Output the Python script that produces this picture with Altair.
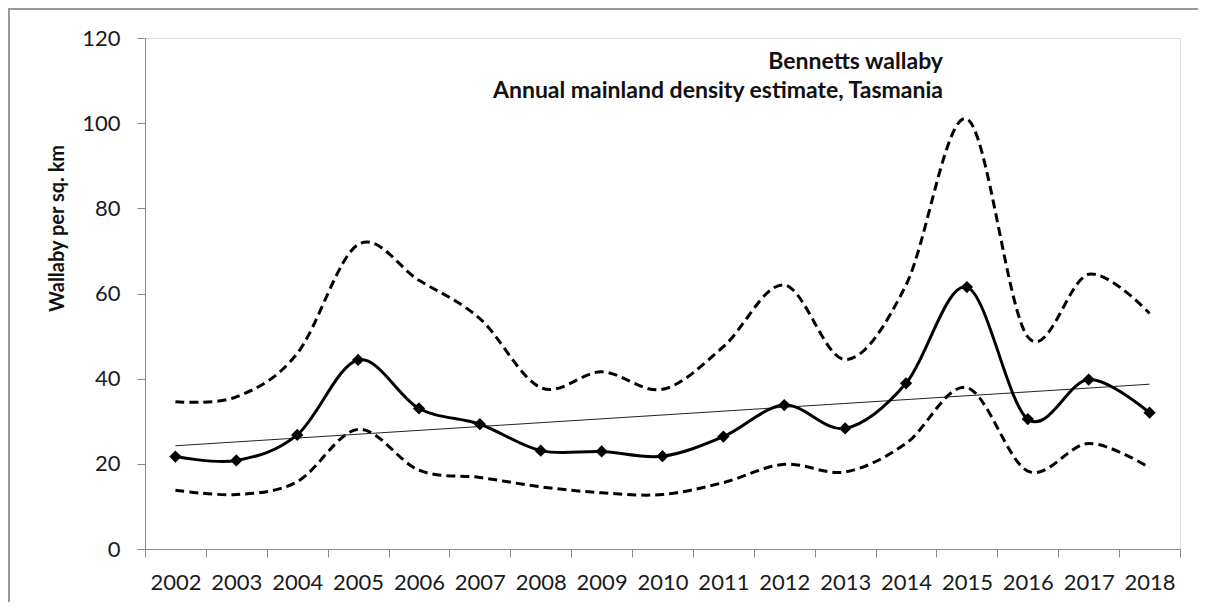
import altair as alt
import pandas as pd

years = list(range(2002, 2019))
estimate = [21.7, 20.8, 26.8, 44.4, 33.0, 29.3, 23.1, 22.9, 21.8, 26.4, 33.8, 28.3, 38.9, 61.5, 30.5, 39.8, 32.0]
upper = [34.6, 35.7, 45.9, 71.5, 63.1, 54.1, 37.9, 41.6, 37.5, 47.5, 62.0, 44.5, 62.0, 101.0, 49.8, 64.5, 55.3]
lower = [13.8, 12.8, 15.8, 28.1, 18.5, 16.8, 14.6, 13.2, 12.8, 15.6, 19.9, 18.1, 24.8, 37.9, 18.3, 24.8, 19.1]
y_ticks = [0, 20, 40, 60, 80, 100, 120]
title_lines = ["Bennetts wallaby", "Annual mainland density estimate, Tasmania"]
y_title = "Wallaby per sq. km"

df = pd.DataFrame({"year": years, "estimate": estimate, "upper": upper, "lower": lower})

FONT = "Lato"
W, H = 1035, 511
PAD = {"left": 137, "top": 30, "right": 18, "bottom": 53}

x_enc = alt.X(
    "year:O",
    sort="ascending",
    axis=alt.Axis(
        title=None, labelAngle=0, tickBand="extent", tickSize=8, labelPadding=15,
        labelFontSize=22, labelFont=FONT, labelColor="#1a1a1a",
        domainColor="#8a8a8a", tickColor="#8a8a8a", grid=False,
    ),
    scale=alt.Scale(paddingInner=0, paddingOuter=0),
)
y_scale = alt.Scale(domain=[0, 120], nice=False)
y_axis = alt.Axis(
    values=y_ticks, tickSize=8, labelPadding=17, labelFontSize=22, labelFont=FONT,
    labelColor="#1a1a1a", domainColor="#8a8a8a", tickColor="#8a8a8a", grid=False,
    title=y_title, titleFont=FONT, titleFontSize=20, titleFontWeight="bold",
    titleColor="#111111", titleAngle=-90, titleAlign="center", titleBaseline="middle",
    titleX=-88, titleY=190,
)

base = alt.Chart(df)

def band(field):
    return base.mark_line(
        interpolate="cardinal", color="black", strokeWidth=3, strokeDash=[9, 5]
    ).encode(x=x_enc, y=alt.Y(f"{field}:Q", scale=y_scale, axis=y_axis))

upper_line = band("upper")
lower_line = band("lower")

main_line = base.mark_line(interpolate="cardinal", color="black", strokeWidth=3).encode(
    x=x_enc, y=alt.Y("estimate:Q", scale=y_scale, axis=y_axis)
)
main_pts = base.mark_point(shape="diamond", filled=True, size=150, color="black", opacity=1).encode(
    x=x_enc, y=alt.Y("estimate:Q", scale=y_scale, axis=y_axis)
)

trend = base.transform_regression("year", "estimate", method="linear").mark_line(
    color="#222222", strokeWidth=1
).encode(x=x_enc, y=alt.Y("estimate:Q", scale=y_scale, axis=y_axis))

one = alt.Data(values=[{"k": 0}])
t1 = alt.Chart(one).mark_text(
    font=FONT, fontSize=23, fontWeight="bold", align="right", baseline="middle", color="#111111"
).encode(x=alt.value(798), y=alt.value(24), text=alt.value(title_lines[0]))
t2 = alt.Chart(one).mark_text(
    font=FONT, fontSize=23, fontWeight="bold", align="right", baseline="middle", color="#111111"
).encode(x=alt.value(798), y=alt.value(53), text=alt.value(title_lines[1]))

frame_top = alt.Chart(one).mark_rule(color="#9a9a9a", strokeWidth=2).encode(
    x=alt.value(-PAD["left"]), x2=alt.value(W + PAD["right"]), y=alt.value(-PAD["top"] + 1)
)
frame_left = alt.Chart(one).mark_rule(color="#9a9a9a", strokeWidth=2).encode(
    x=alt.value(-PAD["left"] + 1), y=alt.value(-PAD["top"]), y2=alt.value(H + PAD["bottom"])
)

chart = alt.layer(
    frame_top, frame_left, upper_line, lower_line, trend, main_line, main_pts, t1, t2
).properties(
    width=W, height=H, autosize=alt.AutoSizeParams(type="none"), padding=PAD
).configure_view(stroke=None).configure(background="white")

chart.save("out.html", embed_options={"renderer": "svg", "actions": False})
